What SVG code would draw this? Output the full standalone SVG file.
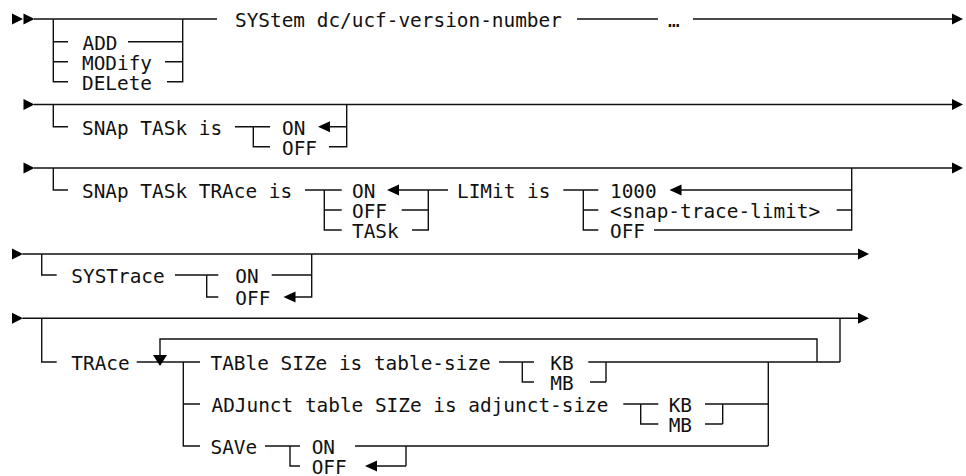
<svg xmlns="http://www.w3.org/2000/svg" xmlns:xlink="http://www.w3.org/1999/xlink" width="966" height="476" viewBox="0 0 966 476">
<style>
  text { font-family: "DejaVu Sans Mono", "Liberation Mono", monospace; font-size: 19.4px; fill: #111; }
  .ln { fill: none; stroke: #111; stroke-width: 1.4; }
  .ah { fill: #000; }
</style>
<defs>
  <polygon id="arrR" class="ah" points="0,-5.5 11,0 0,5.5"/>
  <polygon id="arrL" class="ah" points="0,0 12,-5.5 12,5.5"/>
  <polygon id="arrD" class="ah" points="-7,0 7,0 0,11"/>
</defs>
<rect width="966" height="476" fill="#fff"/>

<g id="connectors">
  <!-- Row 1 -->
  <use href="#arrR" transform="translate(12,19)"/>
  <use href="#arrR" transform="translate(23.5,19)"/>
  <path class="ln" d="M34,19 H217 M577,19 H658 M693,19 H953"/>
  <use href="#arrR" transform="translate(952,19)"/>
  <path class="ln" d="M53.3,19 V81.7 H68 M53.3,41.7 H68 M53.3,61.7 H68"/>
  <path class="ln" d="M182.7,19 V81.7 H167 M128,41.7 H182.7 M165,61.7 H182.7"/>

  <!-- Row 2 -->
  <use href="#arrR" transform="translate(23.5,104.5)"/>
  <path class="ln" d="M34,104.5 H953"/>
  <use href="#arrR" transform="translate(952,104.5)"/>
  <path class="ln" d="M53.3,104.5 V126.7 H68"/>
  <path class="ln" d="M235,126.7 H270 M253.3,126.7 V146.7 H270"/>
  <use href="#arrL" transform="translate(318,126.7)"/>
  <path class="ln" d="M329,126.7 H346.7 M346.7,104.5 V146.7 H329"/>

  <!-- Row 3 -->
  <use href="#arrR" transform="translate(23.5,168)"/>
  <path class="ln" d="M34,168 H953"/>
  <use href="#arrR" transform="translate(952,168)"/>
  <path class="ln" d="M53.3,168 V190 H68"/>
  <path class="ln" d="M305,190 H341.7 M324.3,190 V230 H341.7 M324.3,210 H341.7"/>
  <use href="#arrL" transform="translate(387,190)"/>
  <path class="ln" d="M398,190 H448 M428.3,190 V230 H412 M401.7,210 H428.3"/>
  <path class="ln" d="M563.3,190 H598.3 M583.3,190 V230 H598.3 M583.3,210 H598.3"/>
  <use href="#arrL" transform="translate(669.5,190)"/>
  <path class="ln" d="M680,190 H851.7 M851.7,168 V230 H654 M836.7,210 H851.7"/>

  <!-- Row 4 -->
  <use href="#arrR" transform="translate(12,254)"/>
  <path class="ln" d="M22.5,254 H859"/>
  <use href="#arrR" transform="translate(858,254)"/>
  <path class="ln" d="M41.7,254 V275 H56.7"/>
  <path class="ln" d="M175,275 H218.3 M206.7,275 V297 H218.3"/>
  <path class="ln" d="M271.7,275 H311.7 M311.7,254 V297 H295"/>
  <use href="#arrL" transform="translate(283.5,297)"/>

  <!-- Row 5 -->
  <use href="#arrR" transform="translate(12,318.3)"/>
  <path class="ln" d="M22.5,318.3 H859"/>
  <use href="#arrR" transform="translate(858,318.3)"/>
  <path class="ln" d="M41.7,318.3 V362 H56.7"/>
  <path class="ln" d="M136.7,362 H200"/>
  <path class="ln" d="M160,356 V339 H817 V362"/>
  <use href="#arrD" transform="translate(160,355)"/>
  <path class="ln" d="M183.3,362 V446 H200 M183.3,404 H200"/>
  <path class="ln" d="M499,362 H534 M522.3,362 V382 H534"/>
  <path class="ln" d="M588.3,362 H840 M840,318.3 V362 M590,382 H606 M606,362 V382"/>
  <path class="ln" d="M623.3,404 H658.3 M640.7,404 V424 H658.3"/>
  <path class="ln" d="M705,404 H768.3 M705,424 H722.7 M722.7,404 V424 M768.3,362 V446"/>
  <path class="ln" d="M265,446 H300 M290,446 V466 H300"/>
  <path class="ln" d="M355,446 H768.3 M376,466 H406 M406,446 V466"/>
  <use href="#arrL" transform="translate(365,466)"/>
</g>

<g id="n-system"><text x="235" y="27">SYStem dc/ucf-version-number</text></g>
<g id="n-ellipsis"><text x="668" y="27">…</text></g>
<g id="n-add"><text x="82.5" y="49.7">ADD</text></g>
<g id="n-modify"><text x="82" y="69.7">MODify</text></g>
<g id="n-delete"><text x="82" y="89.7">DELete</text></g>

<g id="n-snaptask"><text x="82" y="134.7">SNAp TASk is</text></g>
<g id="n-snaptask-on"><text x="282" y="134.7">ON</text></g>
<g id="n-snaptask-off"><text x="282" y="154.7">OFF</text></g>

<g id="n-snaptrace"><text x="82" y="198">SNAp TASk TRAce is</text></g>
<g id="n-snaptrace-on"><text x="352" y="198">ON</text></g>
<g id="n-snaptrace-off"><text x="352" y="218">OFF</text></g>
<g id="n-snaptrace-task"><text x="352" y="238">TASk</text></g>
<g id="n-limit"><text x="457" y="198">LIMit is</text></g>
<g id="n-limit-1000"><text x="610" y="198">1000</text></g>
<g id="n-limit-var"><text x="610" y="218">&lt;snap-trace-limit&gt;</text></g>
<g id="n-limit-off"><text x="610" y="238">OFF</text></g>

<g id="n-systrace"><text x="71.3" y="283">SYSTrace</text></g>
<g id="n-systrace-on"><text x="235.3" y="283">ON</text></g>
<g id="n-systrace-off"><text x="235.3" y="305">OFF</text></g>

<g id="n-trace"><text x="71.3" y="370">TRAce</text></g>
<g id="n-table"><text x="210.5" y="370">TABle SIZe is table-size</text></g>
<g id="n-table-kb"><text x="550.3" y="370">KB</text></g>
<g id="n-table-mb"><text x="550.3" y="390">MB</text></g>
<g id="n-adjunct"><text x="211.5" y="412">ADJunct table SIZe is adjunct-size</text></g>
<g id="n-adjunct-kb"><text x="668.7" y="412">KB</text></g>
<g id="n-adjunct-mb"><text x="668.7" y="432">MB</text></g>
<g id="n-save"><text x="210.5" y="454">SAVe</text></g>
<g id="n-save-on"><text x="311.7" y="454">ON</text></g>
<g id="n-save-off"><text x="311.7" y="474">OFF</text></g>
</svg>
